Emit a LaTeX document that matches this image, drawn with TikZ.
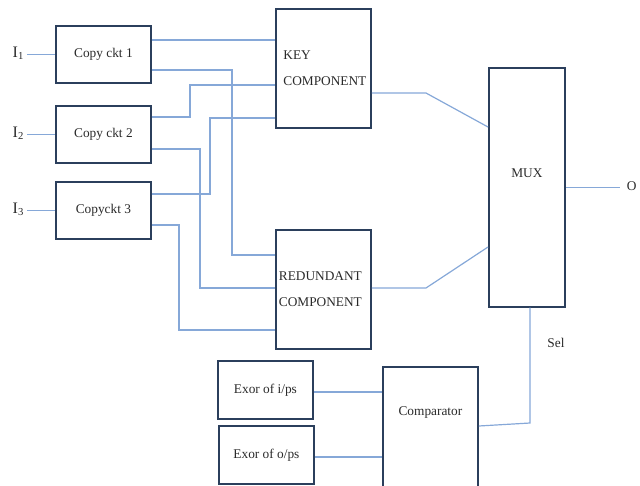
\documentclass[tikz,border=0pt]{standalone}
\usepackage{fontspec}
\setmainfont{Liberation Serif}
\usepackage{tikz}
\usetikzlibrary{positioning,calc}
\definecolor{BoxEdge}{HTML}{2B3F5C}
\definecolor{WireBlue}{HTML}{86A8D8}
\definecolor{LabelGray}{HTML}{2A2A2A}

\begin{document}
\begin{tikzpicture}[x=0.75pt,y=-0.75pt,
    block/.style={draw=BoxEdge, line width=1.4pt, anchor=north west,
                  inner sep=0pt, text=LabelGray, font=\fontsize{10}{12}\selectfont},
    copybox/.style={block, minimum width=71.25pt, minimum height=42.75pt},
    compbox/.style={block, minimum width=71.25pt, minimum height=89.25pt, align=left},
    lbl/.style={text=LabelGray, font=\fontsize{10}{12}\selectfont, inner sep=2pt},
    inlbl/.style={lbl, anchor=east, font=\fontsize{12}{14}\selectfont},
    wire/.style={draw=WireBlue, line width=0.9pt}]
  \useasboundingbox (0,0) rectangle (640,486);

  % copy circuits and inputs
  \node[copybox] (copyA) at (55,25)  {Copy ckt 1};
  \node[copybox] (copyB) at (55,105) {Copy ckt 2};
  \node[copybox] (copyC) at (55,181) {Copyckt 3};
  \node[inlbl] (inA) at (27,53.5)  {I\textsubscript{1}};
  \node[inlbl] (inB) at (27,133.5) {I\textsubscript{2}};
  \node[inlbl] (inC) at (27,209.5) {I\textsubscript{3}};

  % components
  \node[compbox, text width=60pt] (key) at (275,8) {KEY\\[7.5pt]COMPONENT};
  \node[compbox, text width=66.75pt] (red) at (275,229) {REDUNDANT\\[7.5pt]COMPONENT};

  % mux and checking
  \node[block, minimum width=57pt, minimum height=179pt,
        label={[lbl, yshift=10.5pt]center:MUX}] (mux) at (488,67) {};
  \node[copybox, minimum height=43.5pt] (xin)  at (217,360) {Exor of i/ps};
  \node[copybox, minimum height=43.5pt] (xout) at (218,425) {Exor of o/ps};
  \node[block, minimum width=71.25pt, minimum height=93pt,
        label={[lbl, yshift=12pt]center:Comparator}] (cmp) at (382,366) {};
  \node[lbl, anchor=west, inner sep=5pt] (out) at (620,186) {O};
  \node[lbl] (sel) at (556,343) {Sel};

  % wires
  \draw[wire] (inA.east |- copyA.west) -- (copyA.west);
  \draw[wire] (inB.east |- copyB.west) -- (copyB.west);
  \draw[wire] (inC.east |- copyC.west) -- (copyC.west);
  \draw[wire] (copyA.east |- 0,40) -- (key.west |- 0,40);
  \draw[wire] (copyA.east |- 0,70) -- (232,70) |- (red.west |- 0,255);
  \draw[wire] (copyB.east |- 0,117) -- (190,117) |- (key.west |- 0,85);
  \draw[wire] (copyB.east |- 0,149) -- (200,149) |- (red.west |- 0,288);
  \draw[wire] (copyC.east |- 0,194) -- (210,194) |- (key.west |- 0,118);
  \draw[wire] (copyC.east |- 0,225) -- (179,225) |- (red.west |- 0,330);
  \draw[wire] (key.east |- 0,93) -- (426,93) -- (mux.west |- 0,127);
  \draw[wire] (red.east |- 0,288) -- (426,288) -- (mux.west |- 0,247);
  \draw[wire] (mux.east) -- (out.west |- mux.east);
  \draw[wire] (mux.south -| 530,0) -- (530,423) -- (cmp.east |- 0,426);
  \draw[wire] (xin.east |- 0,392) -- (cmp.west |- 0,392);
  \draw[wire] (xout.east |- 0,457) -- (cmp.west |- 0,457);
\end{tikzpicture}
\end{document}
